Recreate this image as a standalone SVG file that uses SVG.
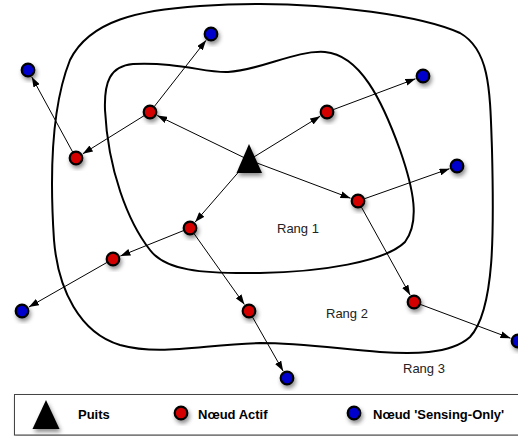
<svg xmlns="http://www.w3.org/2000/svg" width="518" height="436" viewBox="0 0 518 436">
<style>
.zone{fill:none;stroke:#000;stroke-width:2}
.edge{fill:none;stroke:#000;stroke-width:1;marker-end:url(#ah)}
.red{fill:#d40000;stroke:#000;stroke-width:2.2;filter:url(#sh)}
.blue{fill:#0000cc;stroke:#000;stroke-width:2.2;filter:url(#sh)}
.sink{fill:#000;filter:url(#sh)}
.lbl{font-family:"Liberation Sans",Arial,sans-serif;font-size:13px;fill:#222}
.leg{font-family:"Liberation Sans",Arial,sans-serif;font-size:13px;font-weight:bold;fill:#000}
</style>
<defs>
<filter id="sh" x="-50%" y="-50%" width="200%" height="200%">
<feDropShadow dx="1.5" dy="3" stdDeviation="2" flood-color="#000" flood-opacity="0.45"/>
</filter>
<filter id="bsh" x="-5%" y="-20%" width="110%" height="150%">
<feDropShadow dx="1" dy="2" stdDeviation="1.5" flood-color="#000" flood-opacity="0.35"/>
</filter>
<marker id="ah" viewBox="0 0 10 7" refX="10" refY="3.5" markerWidth="10" markerHeight="7" markerUnits="userSpaceOnUse" orient="auto">
<path d="M0,0 L10,3.5 L0,7 z" fill="#000"/>
</marker>
</defs>
<rect width="518" height="436" fill="#fff"/>
<g id="zones">
<path id="rang2" class="zone" d="M 260,4 C 330,4 420,15 460,33 C 490,50 490,90 492,150 C 494,230 495,310 470,337 C 450,355 410,354 380,352 C 340,349 300,343 260,343 C 200,345 160,356 120,345 C 80,333 58,290 54,240 C 50,180 50,110 70,60 C 90,20 140,10 200,6 C 230,4 245,4 260,4 Z"/>
<path id="rang1" class="zone" d="M 133,64 C 180,62 205,73 228,72 C 262,70 295,50 325,52 C 360,55 382,100 400,150 C 414,190 420,222 405,242 C 385,262 320,272 260,273 C 200,274 165,270 150,250 C 128,222 108,170 105,110 C 104,82 110,66 133,64 Z"/>
</g>
<g id="labels">
<text class="lbl" x="277" y="233">Rang 1</text>
<text class="lbl" x="326" y="318">Rang 2</text>
<text class="lbl" x="403" y="373">Rang 3</text>
</g>
<g id="connectors">
<line class="edge" x1="249" y1="160" x2="157.2" y2="115.5"/>
<line class="edge" x1="249" y1="160" x2="320.2" y2="116.2"/>
<line class="edge" x1="249" y1="160" x2="350.5" y2="198.2"/>
<line class="edge" x1="249" y1="160" x2="195.2" y2="222"/>
<line class="edge" x1="154.3" y1="106.5" x2="206.1" y2="40.3"/>
<line class="edge" x1="144.1" y1="115.7" x2="82.8" y2="153.8"/>
<line class="edge" x1="72.6" y1="151.9" x2="31.8" y2="77"/>
<line class="edge" x1="333.6" y1="109.5" x2="415.5" y2="78.8"/>
<line class="edge" x1="364.6" y1="198.7" x2="449.5" y2="168.7"/>
<line class="edge" x1="361.4" y1="207.1" x2="410.1" y2="295"/>
<line class="edge" x1="183.5" y1="230.6" x2="120.4" y2="256"/>
<line class="edge" x1="194.1" y1="233.7" x2="244.4" y2="304.5"/>
<line class="edge" x1="106.9" y1="262.5" x2="28.9" y2="307"/>
<line class="edge" x1="252.5" y1="317.1" x2="283.1" y2="371"/>
<line class="edge" x1="420.6" y1="304.5" x2="510.5" y2="338.2"/>
</g>
<g id="sink"><polygon class="sink" points="249,144 236.5,173 262,173"/></g>
<g id="R1"><circle class="red" cx="150" cy="112" r="6.3"/></g>
<g id="R2"><circle class="red" cx="76" cy="158" r="6.3"/></g>
<g id="R3"><circle class="red" cx="327" cy="112" r="6.3"/></g>
<g id="R4"><circle class="red" cx="358" cy="201" r="6.3"/></g>
<g id="R5"><circle class="red" cx="190" cy="228" r="6.3"/></g>
<g id="R6"><circle class="red" cx="113" cy="259" r="6.3"/></g>
<g id="R7"><circle class="red" cx="249" cy="311" r="6.3"/></g>
<g id="R8"><circle class="red" cx="414" cy="302" r="6.3"/></g>
<g id="B1"><circle class="blue" cx="211" cy="34" r="6.3"/></g>
<g id="B2"><circle class="blue" cx="28" cy="70" r="6.3"/></g>
<g id="B3"><circle class="blue" cx="423" cy="76" r="6.3"/></g>
<g id="B4"><circle class="blue" cx="457" cy="166" r="6.3"/></g>
<g id="B5"><circle class="blue" cx="22" cy="311" r="6.3"/></g>
<g id="B6"><circle class="blue" cx="287" cy="378" r="6.3"/></g>
<g id="B7"><circle class="blue" cx="518" cy="341" r="6.3"/></g>
<g id="legend">
<rect x="14.5" y="394.5" width="520" height="40.5" fill="#fff" stroke="#444" stroke-width="1" filter="url(#bsh)"/>
<polygon class="sink" points="46,400 32.5,429 59.5,429"/>
<text class="leg" x="78" y="419">Puits</text>
<circle class="red" cx="181" cy="413" r="6.3"/>
<text class="leg" x="198" y="419">Nœud Actif</text>
<circle class="blue" cx="354" cy="413" r="6.3"/>
<text class="leg" x="373" y="419">Nœud 'Sensing-Only'</text>
</g>
</svg>
